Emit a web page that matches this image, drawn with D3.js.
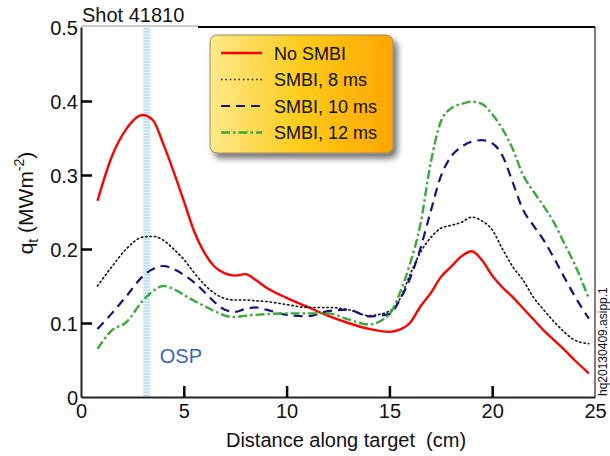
<!DOCTYPE html>
<html><head><meta charset="utf-8">
<script src="https://cdn.jsdelivr.net/npm/d3@7"></script>
<style>body{margin:0;background:#fff}svg{display:block}text{font-family:"Liberation Sans",Arial,Helvetica,sans-serif}</style>
</head><body><svg id="c" width="610" height="456"></svg>
<script>
const distance = [0.8,1.5,2.2,3.0,3.5,4.0,4.5,5.0,5.5,6.0,6.5,7.0,7.5,8.0,8.5,9.0,10,11,12,13,14,15,15.5,16,16.5,17,17.5,18,18.5,19,19.5,20,20.5,21,21.5,22,22.5,23,23.5,24,24.7];
const noSMBI  = [0.265,0.325,0.362,0.381,0.374,0.342,0.305,0.265,0.224,0.195,0.176,0.167,0.164,0.166,0.158,0.148,0.134,0.122,0.110,0.100,0.092,0.088,0.091,0.100,0.122,0.140,0.162,0.176,0.190,0.197,0.185,0.164,0.148,0.135,0.120,0.105,0.090,0.077,0.064,0.050,0.032];
const smbi8   = [0.150,0.176,0.200,0.216,0.217,0.212,0.200,0.186,0.168,0.152,0.140,0.133,0.131,0.131,0.130,0.129,0.125,0.121,0.121,0.118,0.110,0.116,0.132,0.165,0.195,0.215,0.228,0.232,0.236,0.243,0.238,0.226,0.200,0.176,0.158,0.135,0.118,0.102,0.088,0.077,0.072];
const smbi10  = [0.092,0.113,0.136,0.163,0.173,0.177,0.173,0.165,0.155,0.142,0.128,0.118,0.115,0.119,0.121,0.118,0.111,0.109,0.116,0.118,0.109,0.112,0.131,0.160,0.200,0.250,0.298,0.325,0.338,0.345,0.347,0.343,0.326,0.290,0.253,0.232,0.212,0.188,0.162,0.137,0.106];
const smbi12  = [0.065,0.090,0.101,0.130,0.143,0.150,0.146,0.138,0.130,0.123,0.116,0.110,0.108,0.110,0.111,0.112,0.113,0.113,0.113,0.105,0.098,0.112,0.140,0.180,0.232,0.315,0.372,0.390,0.396,0.399,0.396,0.382,0.362,0.335,0.300,0.278,0.258,0.236,0.208,0.180,0.133];
const seriesNames = ["No SMBI","SMBI, 8 ms","SMBI, 10 ms","SMBI, 12 ms"];
const xTicks = [0,5,10,15,20,25];
const yTicks = [0,0.1,0.2,0.3,0.4,0.5];
const ospPosition = 3.2;

const svg = d3.select("#c");
const L=81,R=595,T=27,B=397;
const x = d3.scaleLinear().domain([0,25]).range([L,R]);
const y = d3.scaleLinear().domain([0,0.5]).range([B,T]);

const defs = svg.append("defs");
const pat = defs.append("pattern").attr("id","hatch").attr("patternUnits","userSpaceOnUse").attr("width",4).attr("height",3);
pat.append("rect").attr("width",4).attr("height",3).attr("fill","#c4e2f2");
pat.append("rect").attr("width",4).attr("height",1).attr("fill","#e6f3fa");
const grad = defs.append("linearGradient").attr("id","lg").attr("x1","0").attr("x2","1").attr("y1","0").attr("y2","0");
grad.append("stop").attr("offset","0").attr("stop-color","#fde98a");
grad.append("stop").attr("offset","0.5").attr("stop-color","#fdcb1a");
grad.append("stop").attr("offset","1").attr("stop-color","#fea600");
const f = defs.append("filter").attr("id","sh").attr("x","-20%").attr("y","-20%").attr("width","150%").attr("height","150%");
f.append("feDropShadow").attr("dx",4).attr("dy",5).attr("stdDeviation",3).attr("flood-color","#000").attr("flood-opacity",0.55);

// OSP band
svg.append("rect").attr("x",x(ospPosition)-3.5).attr("y",T).attr("width",7).attr("height",B-T).attr("fill","url(#hatch)");
svg.append("text").attr("x",x(ospPosition)+13).attr("y",363).attr("font-size",20).attr("fill","#3b63b5").text("OSP");

// lines
const styles = [
  {c:"#ff0000",w:2.4,d:null},
  {c:"#111111",w:1.6,d:"1.4,3"},
  {c:"#13137a",w:2.2,d:"9,6"},
  {c:"#3ca83a",w:2.4,d:"9,3,2.5,3"}
];
const data = [noSMBI,smbi8,smbi10,smbi12];
const line = d3.line().x(d=>x(d[0])).y(d=>y(d[1])).curve(d3.curveMonotoneX);
data.forEach((vals,i)=>{
  svg.append("path").datum(distance.map((dx,j)=>[dx,vals[j]]))
    .attr("d",line).attr("fill","none").attr("stroke",styles[i].c)
    .attr("stroke-width",styles[i].w).attr("stroke-dasharray",styles[i].d)
    .attr("stroke-linecap",i===1?"round":"butt");
});

// axes
const xAxis = svg.append("g").attr("transform",`translate(0,${B})`)
  .call(d3.axisBottom(x).tickValues(xTicks).tickFormat(d3.format("d")).tickSizeInner(-11).tickSizeOuter(0).tickPadding(7));
const yAxis = svg.append("g").attr("transform",`translate(${L},0)`)
  .call(d3.axisLeft(y).tickValues(yTicks).tickFormat(d=>d===0?"0":d3.format(".1f")(d)).tickSizeInner(-11).tickSizeOuter(0).tickPadding(3));
[xAxis,yAxis].forEach(g=>{
  g.select(".domain").attr("stroke","#222").attr("stroke-width",2);
  g.selectAll(".tick line").attr("stroke","#000").attr("stroke-width",2.5);
  g.selectAll(".tick text").attr("font-size",20).attr("fill","#111").attr("font-family","Liberation Sans, Arial, sans-serif");
});
xAxis.selectAll(".tick").filter(d=>d===0||d===25).select("line").remove();
yAxis.selectAll(".tick").filter(d=>d===0||d===0.5).select("line").remove();
yAxis.selectAll(".tick text").attr("dy","0.36em");
svg.append("line").attr("x1",L).attr("x2",198).attr("y1",T-1).attr("y2",T-1).attr("stroke","#999").attr("stroke-width",1);
svg.append("line").attr("x1",198).attr("x2",R).attr("y1",T).attr("y2",T).attr("stroke","#000").attr("stroke-width",2);
svg.append("line").attr("x1",R).attr("x2",R).attr("y1",T).attr("y2",B).attr("stroke","#3a2222").attr("stroke-width",1.2);

// titles
svg.append("text").attr("x",82).attr("y",22).attr("font-size",20).attr("fill","#111").text("Shot 41810");
svg.append("text").attr("x",346).attr("y",447).attr("text-anchor","middle").attr("font-size",20).attr("fill","#111").attr("xml:space","preserve").text("Distance along target  (cm)");
const yl = svg.append("text").attr("transform","translate(33,203) rotate(-90)").attr("text-anchor","middle").attr("font-size",21).attr("fill","#111");
yl.append("tspan").text("q");
yl.append("tspan").attr("font-size",14).attr("dy",5).text("t");
yl.append("tspan").attr("dy",-5).text(" (MWm");
yl.append("tspan").attr("font-size",14).attr("dy",-9).text("-2");
yl.append("tspan").attr("dy",9).text(")");
svg.append("text").attr("transform","translate(607,396) rotate(-90)").attr("font-size",12).attr("fill","#111").text("hq20130409.asipp.1");

// legend
const lg = svg.append("g");
lg.append("rect").attr("x",210).attr("y",35).attr("width",183).attr("height",118).attr("rx",7)
  .attr("fill","url(#lg)").attr("stroke","#9a8a60").attr("stroke-width",1).attr("filter","url(#sh)");
seriesNames.forEach((n,i)=>{
  const yy = 53 + i*26.5;
  lg.append("line").attr("x1",221).attr("x2",262).attr("y1",yy).attr("y2",yy)
    .attr("stroke",styles[i].c).attr("stroke-width",styles[i].w).attr("stroke-dasharray",styles[i].d);
  lg.append("text").attr("x",274).attr("y",yy+6.5).attr("font-size",18).attr("fill","#111").text(n);
});
</script></body></html>
